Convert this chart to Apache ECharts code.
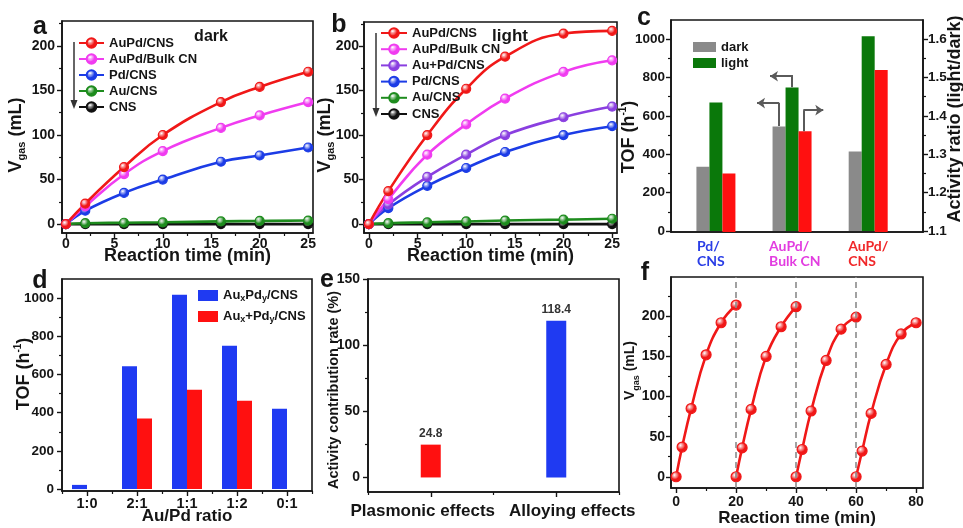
<!DOCTYPE html>
<html><head><meta charset="utf-8">
<script src="https://cdn.jsdelivr.net/npm/echarts@6/dist/echarts.min.js"></script>
<style>html,body{margin:0;padding:0;background:#fff}#c{width:963px;height:528px}</style>
</head><body><div id="c"></div>
<script>
// ---------------- data ----------------
// panel a (dark)
const timeA = [0, 2, 6, 10, 16, 20, 25];
const aAuPdCNS = [0, 23, 64, 100, 137, 154, 171];
const aAuPdBulk = [0, 20, 56, 82, 108, 122, 137];
const aPdCNS = [0, 15, 35, 50, 70, 77, 86];
const aAuCNS = [0, 1, 1.5, 2, 3, 3.5, 4];
const aCNS = [0, 0, 0, 0, 0, 0, 0];
// panel b (light)
const timeB = [0, 2, 6, 10, 14, 20, 25];
const bAuPdCNS = [0, 37, 100, 152, 188, 214, 217];
const bAuPdBulk = [0, 28, 78, 112, 141, 171, 184];
const bAuPlusPd = [0, 22, 53, 78, 100, 120, 132];
const bPdCNS = [0, 18, 43, 63, 81, 100, 110];
const bAuCNS = [0, 1, 2, 3, 4, 5, 6];
const bCNS = [0, 0, 0, 0, 0, 0, 0];
// panel c
const cCategories = ['Pd/\nCNS', 'AuPd/\nBulk CN', 'AuPd/\nCNS'];
const cDark = [335, 545, 415];
const cLight = [670, 748, 1015];
const cRatio = [1.25, 1.36, 1.52];
const cArrows = [
  [[1.82, 547], [1.82, 667], [1.54, 667]],
  [[2.0, 750], [2.0, 807], [1.71, 807]],
  [[2.16, 520], [2.16, 630], [2.41, 630]]
];
// panel d
const dCategories = ['1:0', '2:1', '1:1', '1:2', '0:1'];
const dAlloy = [22, 643, 1017, 750, 420];
const dMix = [null, 370, 520, 463, null];
// panel e
const eCategories = ['Plasmonic effects', 'Alloying effects'];
const eValues = [24.8, 118.4];
// panel f (4 cycles)
const fTime = [[0, 2, 5, 10, 15, 20], [20, 22, 25, 30, 35, 40], [40, 42, 45, 50, 55, 60], [60, 62, 65, 70, 75, 80]];
const fVol = [[0, 37, 85, 152, 192, 214], [0, 36, 84, 150, 187, 212], [0, 34, 82, 145, 184, 199], [0, 32, 79, 140, 178, 192]];
const fCycleEnds = [20, 40, 60];
// tick labels
const abXTicks = [0, 5, 10, 15, 20, 25], abXMinor = [2.5, 7.5, 12.5, 17.5, 22.5];
const abYTicks = [0, 50, 100, 150, 200], abYMinor = [25, 75, 125, 175, 225];
const tofTicks = [0, 200, 400, 600, 800, 1000], tofMinor = [100, 300, 500, 700, 900];
const ratioTicks = [1.1, 1.2, 1.3, 1.4, 1.5, 1.6], ratioMinor = [1.15, 1.25, 1.35, 1.45, 1.55];
const eYTicks = [0, 50, 100, 150], eYMinor = [25, 75, 125];
const fXTicks = [0, 20, 40, 60, 80], fXMinor = [10, 30, 50, 70];
const fYTicks = [0, 50, 100, 150, 200], fYMinor = [25, 75, 125, 175, 225];

// ---------------- styling ----------------
const FONT = "'Liberation Sans', Arial, Helvetica, sans-serif";
const INK = '#151515';
const RED = '#f01818', MAG = '#f03cf0', BLUE = '#1c3ce6', GREEN = '#1e8c1e', BLACK = '#111111', PURPLE = '#8a3fe0';
const GRAY = '#8a8a8a', DGREEN = '#0a780a', BRED = '#ff1010', BBLUE = '#1f3af2';

function isPlain(o) { return o && typeof o === 'object' && o.constructor === Object; }
function mg(a, b) {
  const out = Object.assign({}, a);
  for (const k in b) {
    if (isPlain(b[k]) && isPlain(out[k])) out[k] = mg(out[k], b[k]);
    else out[k] = b[k];
  }
  return out;
}
function ball(c) {
  return new echarts.graphic.RadialGradient(0.38, 0.35, 0.7, [
    { offset: 0, color: 'rgba(255,255,255,0.85)' },
    { offset: 0.55, color: c },
    { offset: 1, color: c }
  ]);
}
const RICH_V = {
  v: { fontSize: 18, fontWeight: 'bold', fontFamily: FONT, color: INK, lineHeight: 22 },
  s: { fontSize: 11, fontWeight: 'bold', fontFamily: FONT, color: INK, lineHeight: 13, verticalAlign: 'bottom' },
  sup: { fontSize: 10, fontWeight: 'bold', fontFamily: FONT, color: INK, lineHeight: 11, verticalAlign: 'top' }
};
const VGAS = '{v|V}{s|gas}{v| (mL)}';
const TOF = '{v|TOF (h}{sup|-1}{v|)}';

const grids = [], xAxes = [], yAxes = [], series = [], legends = [];
function addGrid(l, t, w, h) {
  grids.push({ left: l, top: t, width: w, height: h, show: true, borderColor: INK, borderWidth: 1.6,
    backgroundColor: 'transparent', containLabel: false, outerBoundsMode: 'none' });
  return grids.length - 1;
}
function valueAxis(list, gi, pos, min, max, major, minor, cfg) {
  const base = {
    type: 'value', gridIndex: gi, position: pos, min: min, max: max,
    splitLine: { show: false }, minorTick: { show: false }, nameMoveOverlap: false,
    axisLine: { show: true, onZero: false, lineStyle: { color: INK, width: 1.6 } },
    axisTick: { show: true, inside: false, length: 5, customValues: major, lineStyle: { color: INK, width: 1.4 } },
    axisLabel: { show: true, customValues: major, margin: 6, color: INK, fontFamily: FONT, fontWeight: 'bold', fontSize: 14,
      formatter: v => String(v) },
    nameLocation: 'middle',
    nameTextStyle: { color: INK, fontFamily: FONT, fontWeight: 'bold', fontSize: 18 }
  };
  list.push(mg(base, cfg || {}));
  const idx = list.length - 1;
  if (minor && minor.length) {
    list.push({ type: 'value', gridIndex: gi, position: pos, min: min, max: max, silent: true,
      splitLine: { show: false }, axisLine: { show: false, onZero: false }, axisLabel: { show: false },
      axisTick: { show: true, inside: false, length: 3, customValues: minor, lineStyle: { color: INK, width: 1.2 } } });
  }
  return idx;
}
function categoryAxis(list, gi, pos, cats, cfg) {
  const base = {
    type: 'category', gridIndex: gi, position: pos, data: cats, nameMoveOverlap: false,
    splitLine: { show: false },
    axisLine: { show: true, onZero: false, lineStyle: { color: INK, width: 1.6 } },
    axisTick: { show: true, inside: false, length: 5, alignWithLabel: true, interval: 0, lineStyle: { color: INK, width: 1.4 } },
    axisLabel: { show: true, interval: 0, margin: 4, color: INK, fontFamily: FONT, fontWeight: 'bold', fontSize: 14 },
    nameLocation: 'middle',
    nameTextStyle: { color: INK, fontFamily: FONT, fontWeight: 'bold', fontSize: 17 }
  };
  list.push(mg(base, cfg || {}));
  const idx = list.length - 1;
  list.push({ type: 'category', gridIndex: gi, position: pos, data: cats, silent: true,
    splitLine: { show: false }, axisLine: { show: false, onZero: false }, axisLabel: { show: false },
    axisTick: { show: true, inside: false, interval: 0, length: 3, lineStyle: { color: INK, width: 1.2 } } });
  return idx;
}
function lineSeries(name, xs, ys, color, xi, yi, size) {
  return {
    type: 'line', name: name, xAxisIndex: xi, yAxisIndex: yi,
    data: xs.map((x, i) => [x, ys[i]]),
    smooth: 0.45, symbol: 'circle', symbolSize: size || 9, showAllSymbol: true,
    lineStyle: { color: color, width: 2.6 },
    itemStyle: { color: ball(color), borderColor: color, borderWidth: 1.2 },
    emphasis: { disabled: true }, silent: true
  };
}
const legendText = { color: INK, fontFamily: FONT, fontWeight: 'bold', fontSize: 13, lineHeight: 14 };

// ---------------- panel a ----------------
const gA = addGrid(62, 21, 251, 212);
const xA = valueAxis(xAxes, gA, 'bottom', -0.4, 25.5, abXTicks, abXMinor,
  { axisLabel: { margin: 4 }, name: 'Reaction time (min)', nameGap: 14 });
const yA = valueAxis(yAxes, gA, 'left', -10, 228, abYTicks, abYMinor,
  { axisLabel: { margin: 7 }, name: VGAS, nameGap: 35, nameTextStyle: { rich: RICH_V, padding: [0, 16, 0, 0] } });
series.push(lineSeries('CNS', timeA, aCNS, BLACK, xA, yA));
series.push(lineSeries('Au/CNS', timeA, aAuCNS, GREEN, xA, yA));
series.push(lineSeries('Pd/CNS', timeA, aPdCNS, BLUE, xA, yA));
series.push(lineSeries('AuPd/Bulk CN', timeA, aAuPdBulk, MAG, xA, yA));
series.push(lineSeries('AuPd/CNS', timeA, aAuPdCNS, RED, xA, yA));
legends.push({ left: 78, top: 36, padding: 0, orient: 'vertical', itemWidth: 25, itemHeight: 12, itemGap: 2,
  selectedMode: false, data: ['AuPd/CNS', 'AuPd/Bulk CN', 'Pd/CNS', 'Au/CNS', 'CNS'], textStyle: legendText });

// ---------------- panel b ----------------
const gB = addGrid(364, 22, 253, 211);
const xB = valueAxis(xAxes, gB, 'bottom', -0.5, 25.5, abXTicks, abXMinor,
  { axisLabel: { margin: 4 }, name: 'Reaction time (min)', nameGap: 14 });
const yB = valueAxis(yAxes, gB, 'left', -10, 227, abYTicks, abYMinor,
  { axisLabel: { margin: 5 }, name: VGAS, nameGap: 28, nameTextStyle: { rich: RICH_V, padding: [0, 15, 0, 0] } });
series.push(lineSeries('CNS', timeB, bCNS, BLACK, xB, yB));
series.push(lineSeries('Au/CNS', timeB, bAuCNS, GREEN, xB, yB));
series.push(lineSeries('Pd/CNS', timeB, bPdCNS, BLUE, xB, yB));
series.push(lineSeries('Au+Pd/CNS', timeB, bAuPlusPd, PURPLE, xB, yB));
series.push(lineSeries('AuPd/Bulk CN', timeB, bAuPdBulk, MAG, xB, yB));
series.push(lineSeries('AuPd/CNS', timeB, bAuPdCNS, RED, xB, yB));
legends.push({ left: 380, top: 26, padding: 0, orient: 'vertical', itemWidth: 26, itemHeight: 12, itemGap: 2.2,
  selectedMode: false, data: ['AuPd/CNS', 'AuPd/Bulk CN', 'Au+Pd/CNS', 'Pd/CNS', 'Au/CNS', 'CNS'], textStyle: legendText });

// ---------------- panel c ----------------
const gC = addGrid(671, 20, 252, 212);
const cLabelStyles = ['p', 'm', 'r'];
const cLabelFont = { fontFamily: "Lato, 'Open Sans', sans-serif", fontWeight: 'bold', fontSize: 14, lineHeight: 15, align: 'left' };
const xC = valueAxis(xAxes, gC, 'bottom', 0.41, 3.72, [1, 2, 3], null, {
  axisTick: { show: false },
  axisLabel: {
    margin: 7,
    formatter: function (v) {
      const i = Math.round(v) - 1;
      return cCategories[i].split('\n').map(s => '{' + cLabelStyles[i] + '|' + s + '}').join('\n');
    },
    rich: {
      p: Object.assign({ color: '#2a3ee6', width: 30, padding: [0, 8, 0, 0] }, cLabelFont),
      m: Object.assign({ color: '#e23de0', width: 46 }, cLabelFont),
      r: Object.assign({ color: '#f0282a', width: 40 }, cLabelFont)
    }
  }
});
const yCL = valueAxis(yAxes, gC, 'left', -5, 1100, tofTicks, tofMinor,
  { axisLabel: { margin: 6, fontSize: 13.5 }, name: TOF, nameGap: 31, nameTextStyle: { rich: RICH_V, padding: [0, 22, 0, 0] } });
const yCR = valueAxis(yAxes, gC, 'right', 1.0975, 1.65, ratioTicks, ratioMinor,
  { axisLabel: { margin: 5, fontSize: 13.5, formatter: v => v.toFixed(1) }, name: 'Activity ratio (light/dark)', nameGap: 23,
    nameTextStyle: { padding: [0, 0, 0, 14] } });
series.push({ type: 'bar', name: 'dark', xAxisIndex: xC, yAxisIndex: yCL, barWidth: 13, barGap: '0%',
  data: cDark.map((v, i) => [i + 1, v]), itemStyle: { color: GRAY }, silent: true });
series.push({ type: 'bar', name: 'light', xAxisIndex: xC, yAxisIndex: yCL, barWidth: 13, barGap: '0%',
  data: cLight.map((v, i) => [i + 1, v]), itemStyle: { color: DGREEN }, silent: true });
series.push({ type: 'bar', name: 'ratio', xAxisIndex: xC, yAxisIndex: yCR, barWidth: 13, barGap: '0%',
  data: cRatio.map((v, i) => [i + 1, v]), itemStyle: { color: BRED }, silent: true });
// bent arrows: vertical stem, then horizontal segment with arrow head
series.push({ type: 'lines', coordinateSystem: 'cartesian2d', xAxisIndex: xC, yAxisIndex: yCL,
  data: cArrows.map(c => ({ coords: [c[0], c[1]] })), symbol: ['none', 'none'],
  lineStyle: { color: '#5a5a5a', width: 2, opacity: 1, curveness: 0 }, silent: true, z: 5 });
series.push({ type: 'lines', coordinateSystem: 'cartesian2d', xAxisIndex: xC, yAxisIndex: yCL,
  data: cArrows.map(c => ({ coords: [[c[1][0] + (c[2][0] > c[1][0] ? -0.012 : 0.012), c[1][1]], c[2]] })), symbol: ['none', 'arrow'], symbolSize: 8,
  lineStyle: { color: '#5a5a5a', width: 2, opacity: 1, curveness: 0 }, silent: true, z: 5 });
legends.push({ left: 693, top: 40, padding: 0, orient: 'vertical', itemWidth: 23, itemHeight: 10, itemGap: 2, icon: 'rect',
  selectedMode: false, data: ['dark', 'light'], textStyle: legendText });

// ---------------- panel d ----------------
const gD = addGrid(62, 279, 250, 212);
const xD = categoryAxis(xAxes, gD, 'bottom', dCategories,
  { axisLabel: { margin: 5, fontSize: 14.5 }, name: 'Au/Pd ratio', nameGap: 17 });
const yD = valueAxis(yAxes, gD, 'left', -10, 1100, tofTicks, tofMinor,
  { axisLabel: { margin: 8, fontSize: 13.5 }, name: TOF, nameGap: 27, nameTextStyle: { rich: RICH_V, padding: [0, 0, 0, 22] } });
series.push({ type: 'bar', name: 'AuxPdy/CNS', xAxisIndex: xD, yAxisIndex: yD, barWidth: 15, barGap: '0%',
  data: dAlloy, itemStyle: { color: BBLUE }, silent: true });
series.push({ type: 'bar', name: 'Aux+Pdy/CNS', xAxisIndex: xD, yAxisIndex: yD, barWidth: 15, barGap: '0%',
  data: dMix, itemStyle: { color: BRED }, silent: true });
legends.push({ left: 198, top: 287.5, padding: 0, orient: 'vertical', itemWidth: 20, itemHeight: 11, itemGap: 5, icon: 'rect',
  selectedMode: false, data: ['AuxPdy/CNS', 'Aux+Pdy/CNS'],
  formatter: n => n === 'AuxPdy/CNS' ? '{n|Au}{s|x}{n|Pd}{s|y}{n|/CNS}' : '{n|Au}{s|x}{n|+Pd}{s|y}{n|/CNS}',
  textStyle: Object.assign({}, legendText, { lineHeight: 16, rich: {
    n: { color: INK, fontFamily: FONT, fontWeight: 'bold', fontSize: 13, lineHeight: 16 },
    s: { color: INK, fontFamily: FONT, fontWeight: 'bold', fontSize: 9, lineHeight: 10, verticalAlign: 'bottom' } } }) });

// ---------------- panel e ----------------
const gE = addGrid(368, 279, 251, 213);
const eLabelRich = {
  e0: { fontFamily: FONT, fontWeight: 'bold', fontSize: 17, color: INK, padding: [0, 16, 0, 0] },
  e1: { fontFamily: FONT, fontWeight: 'bold', fontSize: 17, color: INK, padding: [0, 0, 0, 32] }
};
const xE = categoryAxis(xAxes, gE, 'bottom', eCategories, { axisLabel: { margin: 11, fontSize: 17,
  formatter: (v, i) => '{e' + i + '|' + v + '}', rich: eLabelRich } });
const yE = valueAxis(yAxes, gE, 'left', -11, 150, eYTicks, eYMinor,
  { axisLabel: { margin: 8, fontSize: 14 }, name: 'Activity contribution rate (%)', nameGap: 27,
    nameTextStyle: { fontSize: 14.5, padding: [0, 9, 0, 0] } });
series.push({ type: 'bar', name: 'contribution', xAxisIndex: xE, yAxisIndex: yE, barWidth: 20,
  data: eValues.map((v, i) => ({ value: v, itemStyle: { color: i === 0 ? BRED : BBLUE } })),
  label: { show: true, position: 'top', distance: 5, color: '#333', fontFamily: FONT, fontWeight: 'bold', fontSize: 12 },
  silent: true });

// ---------------- panel f ----------------
const gF = addGrid(671, 277, 252, 211);
const xF = valueAxis(xAxes, gF, 'bottom', -1.7, 82.3, fXTicks, fXMinor,
  { axisLabel: { margin: 7 }, name: 'Reaction time (min)', nameGap: 22, nameTextStyle: { fontSize: 17 } });
const yF = valueAxis(yAxes, gF, 'left', -14, 249, fYTicks, fYMinor,
  { axisLabel: { margin: 6 }, name: VGAS, nameGap: 30, nameTextStyle: { rich: mg(RICH_V, { v: { fontSize: 14 }, s: { fontSize: 9 } }), padding: [0, 0, 0, 24] } });
fTime.forEach((xs, k) => {
  const s = lineSeries('cycle ' + (k + 1), xs, fVol[k], RED, xF, yF, 10);
  if (k === 0) {
    s.markLine = { silent: true, symbol: ['none', 'none'], label: { show: false },
      lineStyle: { color: '#8a8a8a', type: [6, 4], width: 1.6 },
      data: fCycleEnds.map(v => ({ xAxis: v })) };
  }
  series.push(s);
});

// ---------------- annotations ----------------
function letter(t, x, y) {
  return { type: 'text', x: x, y: y, silent: true,
    style: { text: t, fill: INK, font: 'bold 25px ' + FONT, align: 'center', verticalAlign: 'middle' } };
}
const graphic = [
  letter('a', 40, 27), letter('b', 339, 25), letter('c', 644, 18),
  letter('d', 40, 281), letter('e', 327, 280), letter('f', 645, 273),
  { type: 'text', x: 211, y: 37, silent: true, style: { text: 'dark', fill: INK, font: 'bold 16px ' + FONT, align: 'center', verticalAlign: 'middle' } },
  { type: 'text', x: 510, y: 36, silent: true, style: { text: 'light', fill: INK, font: 'bold 17px ' + FONT, align: 'center', verticalAlign: 'middle' } },
  { type: 'line', silent: true, shape: { x1: 74, y1: 42, x2: 74, y2: 102 }, style: { stroke: '#333', lineWidth: 1.5 } },
  { type: 'polygon', silent: true, shape: { points: [[70.5, 100], [77.5, 100], [74, 109]] }, style: { fill: '#333' } },
  { type: 'line', silent: true, shape: { x1: 376, y1: 33, x2: 376, y2: 110 }, style: { stroke: '#333', lineWidth: 1.5 } },
  { type: 'polygon', silent: true, shape: { points: [[372.5, 108], [379.5, 108], [376, 117]] }, style: { fill: '#333' } }
];

const chart = echarts.init(document.getElementById('c'), null, { renderer: 'canvas' });
chart.setOption({
  animation: false,
  backgroundColor: '#ffffff',
  textStyle: { fontFamily: FONT },
  grid: grids, xAxis: xAxes, yAxis: yAxes, series: series, legend: legends, graphic: graphic
});
</script></body></html>
